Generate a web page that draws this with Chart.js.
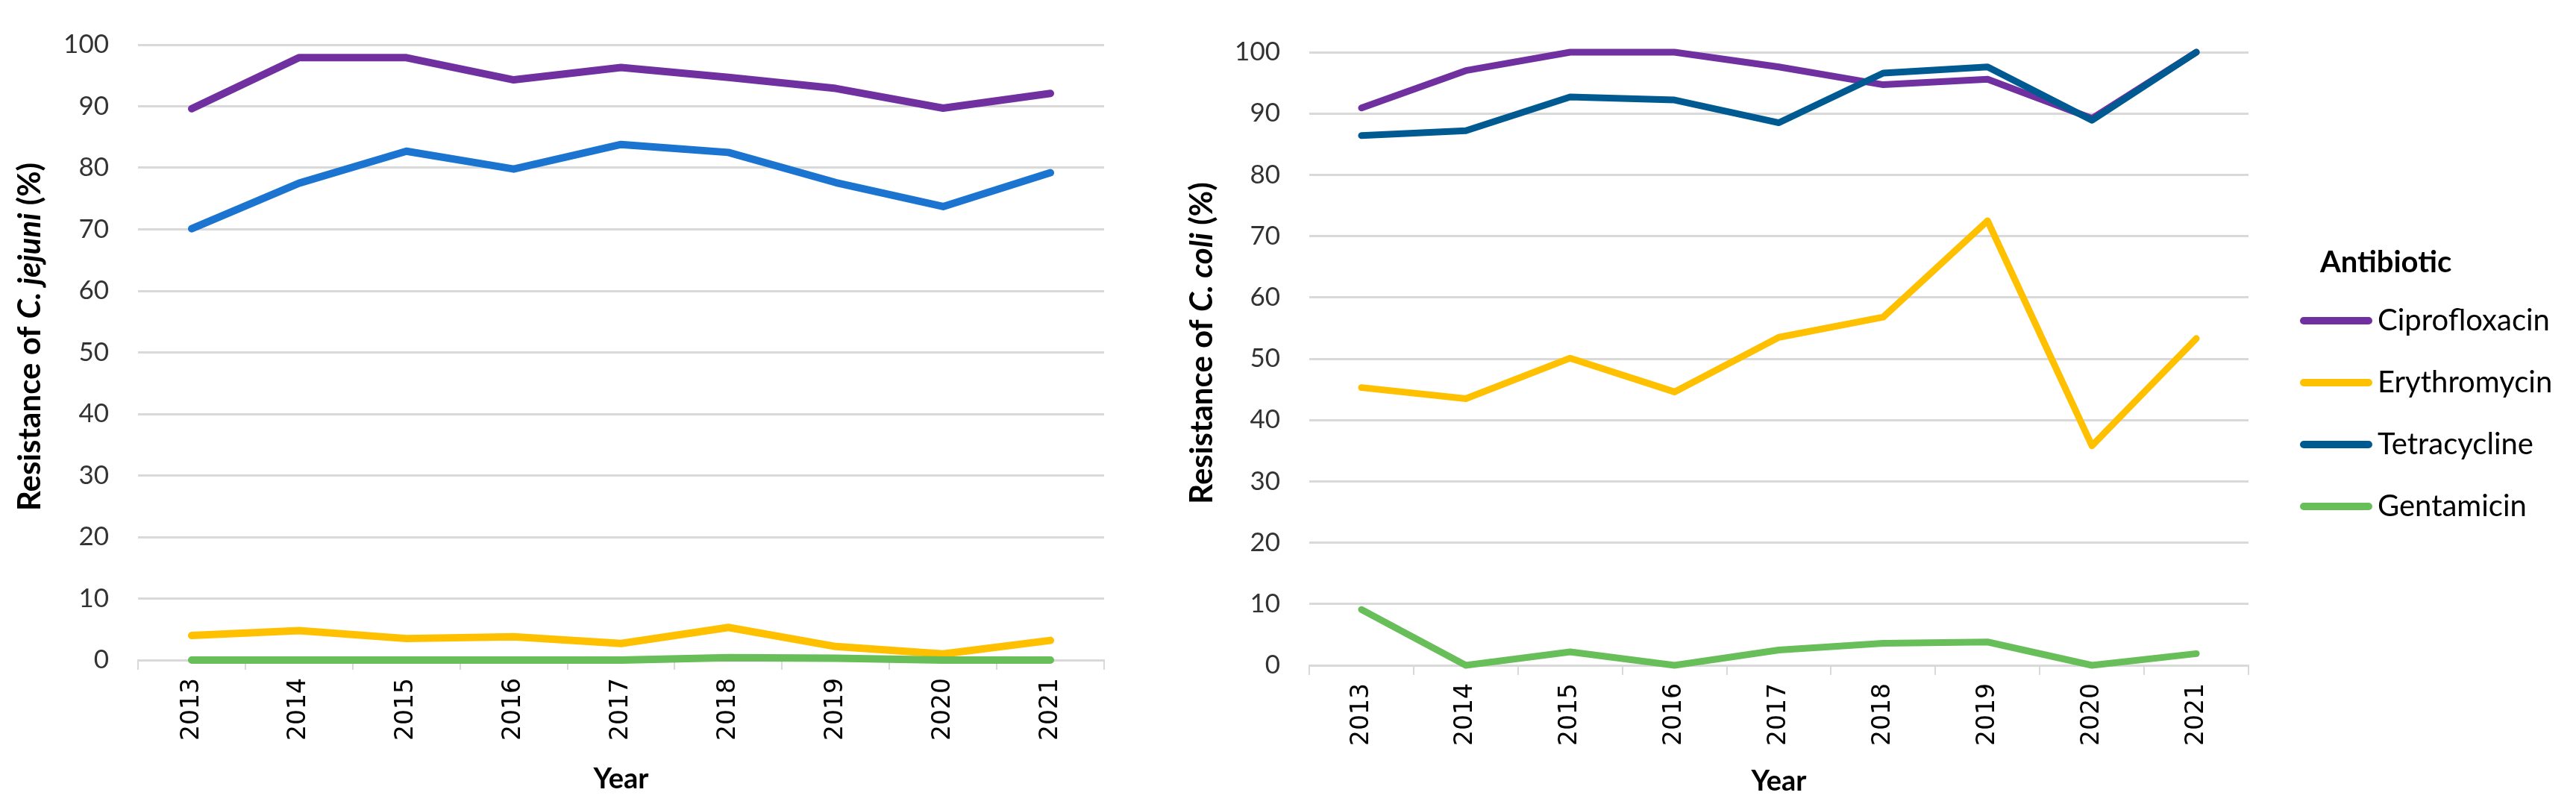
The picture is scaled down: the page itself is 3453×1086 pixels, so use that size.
<!DOCTYPE html>
<html>
<head>
<meta charset="utf-8">
<script src="https://cdn.jsdelivr.net/npm/chart.js@4.4.1/dist/chart.umd.min.js"></script>
<style>
body { margin: 0; background: #fff; }
#left { position: absolute; left: 0; top: 0; width: 1540px; height: 1086px; }
#right { position: absolute; left: 1540px; top: 0; width: 1913px; height: 1086px; }
</style>
</head>
<body>
<div id="left"><canvas id="jejuni"></canvas></div>
<div id="right"><canvas id="coli"></canvas></div>
<script>
const years = ['2013', '2014', '2015', '2016', '2017', '2018', '2019', '2020', '2021'];
const antibiotics = ['Ciprofloxacin', 'Erythromycin', 'Tetracycline', 'Gentamicin'];

// C. jejuni resistance (%)
const jejuniCipro = [89.6, 97.9, 97.9, 94.3, 96.3, 94.7, 92.9, 89.7, 92.1];
const jejuniEry   = [4.0, 4.8, 3.5, 3.8, 2.7, 5.3, 2.2, 1.0, 3.2];
const jejuniTetra = [70.1, 77.5, 82.7, 79.8, 83.8, 82.5, 77.6, 73.7, 79.2];
const jejuniGenta = [0, 0, 0, 0, 0, 0.4, 0.3, 0, 0];

// C. coli resistance (%)
const coliCipro = [90.9, 97.0, 100, 100, 97.6, 94.7, 95.6, 89.2, 100];
const coliEry   = [45.3, 43.5, 50.1, 44.6, 53.5, 56.8, 72.5, 35.8, 53.3];
const coliTetra = [86.4, 87.2, 92.7, 92.2, 88.5, 96.6, 97.6, 88.9, 100];
const coliGenta = [9.1, 0, 2.2, 0, 2.5, 3.6, 3.8, 0, 1.9];

// draws the rotated y title, with the species name in italics
const yTitle = {
    id: 'yTitle',
    afterDraw(chart, args, opts) {
        const ctx = chart.ctx;
        const area = chart.chartArea;
        const fonts = opts.parts.map(p => (p.italic ? 'italic ' : '') + 'bold ' + opts.size + 'px Lato');
        ctx.save();
        ctx.translate(opts.x, (area.top + area.bottom) / 2 + opts.shift);
        ctx.rotate(-Math.PI / 2);
        const widths = opts.parts.map((p, i) => { ctx.font = fonts[i]; return ctx.measureText(p.text).width; });
        let x = -widths.reduce((a, b) => a + b, 0) / 2;
        ctx.textBaseline = 'middle';
        ctx.fillStyle = '#000';
        opts.parts.forEach((p, i) => {
            ctx.font = fonts[i];
            ctx.fillText(p.text, x, 0);
            x += widths[i];
        });
        ctx.restore();
    }
};

// legend in the right margin, taken from the datasets
const sideLegend = {
    id: 'sideLegend',
    afterDraw(chart, args, opts) {
        if (!opts.display) return;
        const ctx = chart.ctx;
        ctx.save();
        ctx.textBaseline = 'middle';
        ctx.fillStyle = '#000';
        ctx.font = 'bold 40px Lato';
        ctx.fillText(opts.title, opts.x + 27, opts.y);
        chart.data.datasets.forEach((ds, i) => {
            const y = opts.y + 78 + i * 83;
            ctx.strokeStyle = ds.borderColor;
            ctx.lineWidth = 10;
            ctx.lineCap = 'round';
            ctx.beginPath();
            ctx.moveTo(opts.x + 5, y);
            ctx.lineTo(opts.x + 92, y);
            ctx.stroke();
            ctx.font = '40px Lato';
            ctx.fillText(ds.label, opts.x + 104, y);
        });
        ctx.restore();
    }
};

function series(values, i, color, width) {
    return {
        label: antibiotics[i],
        data: values,
        borderColor: color,
        backgroundColor: color,
        borderWidth: width,
        tension: 0,
        pointRadius: 0,
        borderCapStyle: 'round',
        borderJoinStyle: 'round',
        fill: false,
        clip: false,
        order: 4 - i
    };
}

function make_chart(id, datasets, o) {
    return new Chart(document.getElementById(id), {
        type: 'line',
        data: { labels: years, datasets: datasets },
        plugins: [yTitle, sideLegend],
        options: {
            responsive: true,
            maintainAspectRatio: false,
            animation: false,
            devicePixelRatio: 1,
            layout: { padding: o.padding },
            plugins: {
                legend: { display: false },
                tooltip: { enabled: false },
                yTitle: { parts: o.title, x: o.titleX, shift: -21, size: 42 },
                sideLegend: o.legend
            },
            scales: {
                x: {
                    offset: true,
                    grid: { offset: true, drawOnChartArea: false, drawTicks: true, tickLength: 13, color: '#d9d9d9', lineWidth: 2 },
                    border: { display: true, color: '#d9d9d9', width: 3 },
                    ticks: { font: { family: 'DejaVu Sans', size: 33 }, color: '#000', maxRotation: 90, minRotation: 90, padding: 11, autoSkip: false },
                    title: { display: true, text: 'Year', color: '#000', font: { family: 'Lato', size: 38, weight: 'bold' }, padding: { top: 0, bottom: o.yearPad } },
                    afterFit: s => { s.height = o.xHeight; }
                },
                y: {
                    min: 0,
                    max: 100,
                    grid: { color: '#d9d9d9', lineWidth: 3, drawTicks: false },
                    border: { display: false },
                    ticks: { stepSize: 10, font: { family: 'Lato', size: 35 }, color: '#333', padding: 39 },
                    afterFit: s => { s.width = o.yWidth; }
                }
            }
        }
    });
}

make_chart('jejuni', [
    series(jejuniCipro, 0, '#7030A0', 10),
    series(jejuniEry, 1, '#FFC000', 10),
    series(jejuniTetra, 2, '#1B74CF', 10),
    series(jejuniGenta, 3, '#68BE58', 10)
], {
    padding: { top: 40, right: 60, left: 0, bottom: 0 },
    yWidth: 185,
    xHeight: 201,
    yearPad: 18,
    titleX: 40,
    title: [{ text: 'Resistance of ' }, { text: 'C. jejuni', italic: true }, { text: ' (%)' }],
    legend: { display: false }
});

make_chart('coli', [
    series(coliCipro, 0, '#7030A0', 9),
    series(coliEry, 1, '#FFC000', 9),
    series(coliTetra, 2, '#005A92', 9),
    series(coliGenta, 3, '#68BE58', 9)
], {
    padding: { top: 70, right: 439, left: 0, bottom: 0 },
    yWidth: 215,
    xHeight: 194,
    yearPad: 15,
    titleX: 71,
    title: [{ text: 'Resistance of ' }, { text: 'C. coli', italic: true }, { text: ' (%)' }],
    legend: { display: true, title: 'Antibiotic', x: 1543, y: 352 }
});
</script>
</body>
</html>
